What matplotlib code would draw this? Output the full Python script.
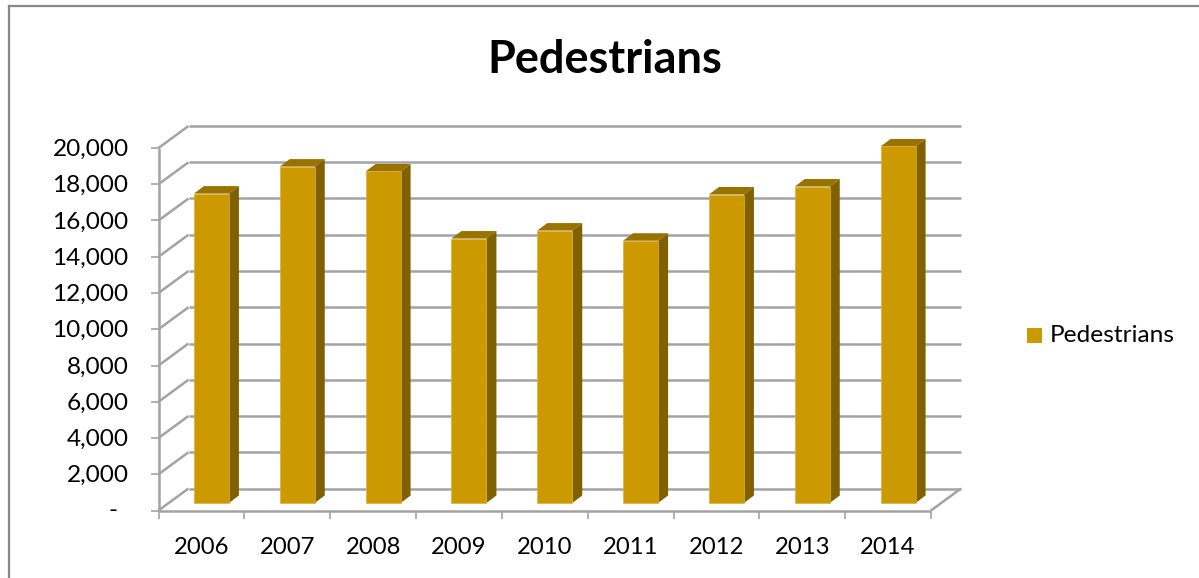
import matplotlib
matplotlib.use("Agg")
import matplotlib.pyplot as plt
from matplotlib.lines import Line2D
from matplotlib.patches import Polygon, Rectangle

years = ["2006", "2007", "2008", "2009", "2010", "2011", "2012", "2013", "2014"]
pedestrians = [17070, 18560, 18290, 14590, 15030, 14470, 17020, 17460, 19670]
y_ticks = [0, 2000, 4000, 6000, 8000, 10000, 12000, 14000, 16000, 18000, 20000]
y_labels = ["-", "2,000", "4,000", "6,000", "8,000", "10,000", "12,000",
            "14,000", "16,000", "18,000", "20,000"]

W, H = 1199, 578
plt.rcParams["font.family"] = ["Lato", "DejaVu Sans"]

fig = plt.figure(figsize=(W / 100, H / 100), dpi=100)

# axes is the front plane of the fake 3d box
left, right, top, bottom = 158.5, 931, 148, 510.5
ax = fig.add_axes([left / W, 1 - bottom / H, (right - left) / W, (bottom - top) / H])
ax.set_xlim(0, len(years))
ax.set_ylim(0, 20000)
ax.axis("off")

# pixel -> data units
ux = len(years) / (right - left)
uy = 20000 / (bottom - top)

GRID = "#a3a3a3"
FRONT = "#cc9900"
SIDE = "#806000"
TOP = "#997300"
DEPTH_X, DEPTH_Y = 30 * ux, 22 * uy


def poly(pts, color, z, edge="none"):
    ax.add_patch(Polygon(pts, closed=True, facecolor=color, edgecolor=edge,
                         linewidth=0.5, zorder=z, clip_on=False))


def line(xs, ys, z=1, lw=1.8):
    ax.plot(xs, ys, color=GRID, lw=lw, zorder=z, clip_on=False, solid_capstyle="butt")


# gridlines on side and back walls, with left axis ticks
for v in y_ticks:
    line([0, DEPTH_X], [v, v + DEPTH_Y])
    line([DEPTH_X, len(years) + DEPTH_X], [v + DEPTH_Y, v + DEPTH_Y])
    line([-8 * ux, 0], [v, v], lw=1.2)

# floor and front axis
line([0, 0], [0, 20000], z=2)
line([0, len(years)], [0, 0], z=2)
line([len(years), len(years) + DEPTH_X], [0, DEPTH_Y], z=2)
for i in range(len(years) + 1):
    line([i, i], [0, -8 * uy], lw=1.2)

# bars, sitting a third of the way into the box
bar_w = 35 * ux
off_x, off_y = 10 * ux, 7.5 * uy
d_x, d_y = 10 * ux, 7.5 * uy
for i, val in enumerate(pedestrians):
    x0 = i + 0.5 + off_x - bar_w / 2
    x1 = x0 + bar_w
    y0 = off_y
    y1 = off_y + val
    poly([(x1, y0), (x1 + d_x, y0 + d_y), (x1 + d_x, y1 + d_y), (x1, y1)], SIDE, 5)
    poly([(x0, y1), (x1, y1), (x1 + d_x, y1 + d_y), (x0 + d_x, y1 + d_y)], TOP, 5)
    poly([(x0, y0), (x1, y0), (x1, y1), (x0, y1)], FRONT, 6, edge="#d8b23f")

# tick labels, the dash for zero sits further left like the accounting format
for v, lab in zip(y_ticks, y_labels):
    if lab == "-":
        ax.text(-46 * ux, v, lab, ha="center", va="center", fontsize=17.6, color="black")
    else:
        ax.text(-30 * ux, v - 1.5 * uy, lab, ha="right", va="center", fontsize=17.6, color="black")
for i, lab in enumerate(years):
    ax.text(i + 0.5, -37 * uy, lab, ha="center", va="center", fontsize=17.2, color="black")

# figure level things in pixel coordinates
FRAME = "#888888"
fig.add_artist(Line2D([9 / W, 1], [1 - 6 / H, 1 - 6 / H], color=FRAME, lw=1.6,
                      transform=fig.transFigure))
fig.add_artist(Line2D([9 / W, 9 / W], [0, 1 - 6 / H], color=FRAME, lw=1.6,
                      transform=fig.transFigure))

fig.text(605 / W, 1 - 60 / H, "Pedestrians", ha="center", va="center",
         fontsize=32.5, fontweight="bold", color="black")
fig.add_artist(Rectangle((1027 / W, 1 - 343 / H), 15 / W, 15 / H, facecolor=FRONT,
                         edgecolor="none", transform=fig.transFigure))
fig.text(1050 / W, 1 - 335 / H, "Pedestrians", ha="left", va="center",
         fontsize=17.6, color="black")

fig.savefig("out.png", dpi=100, facecolor="white")
